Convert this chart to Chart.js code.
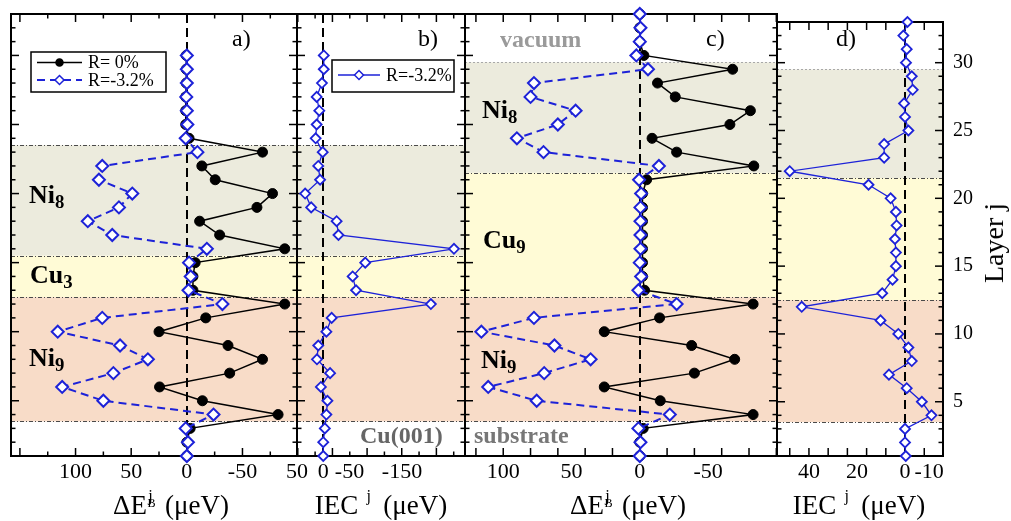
<!DOCTYPE html>
<html>
<head>
<meta charset="utf-8">
<script src="https://cdn.jsdelivr.net/npm/chart.js@4.4.1/dist/chart.umd.min.js"></script>
<style>
  html, body { margin: 0; padding: 0; background: #fff; }
  #wrap { position: relative; width: 1011px; height: 521px; overflow: hidden;
          font-family: "Liberation Serif", "DejaVu Serif", serif; }
  #wrap canvas { position: absolute; left: 0; top: 0; }
  .t { position: absolute; white-space: nowrap; line-height: 1; color: #000; }
  .tag { font-size: 24px; }
  .zone { font-size: 26px; font-weight: bold; }
  .zone sub { font-size: 0.72em; vertical-align: -0.28em; line-height: 0; }
  .grey { font-size: 24px; font-weight: bold; }
  .xt { font-size: 27px; transform: translateX(-50%); }
  .ss { position: relative; display: inline-block; width: 0.42em; height: 1em; }
  .ss .up { position: absolute; left: 0.08em; top: 0.06em; font-size: 0.6em; }
  .ss .dn { position: absolute; left: 0.05em; top: 0.84em; font-size: 0.45em; }
  .yt { font-size: 28px; transform: translate(-50%, -50%) rotate(-90deg); }
</style>
</head>
<body>
<div id="wrap">
  <canvas id="cA" width="1011" height="521"></canvas>
  <canvas id="cB" width="1011" height="521"></canvas>
  <canvas id="cC" width="1011" height="521"></canvas>
  <canvas id="cD" width="1011" height="521"></canvas>

  <div class="t tag" style="left:232px;top:26px">a)</div>
  <div class="t tag" style="left:418px;top:26px">b)</div>
  <div class="t tag" style="left:706px;top:26px">c)</div>
  <div class="t tag" style="left:836px;top:26px">d)</div>

  <div class="t zone" style="left:29px;top:182px">Ni<sub>8</sub></div>
  <div class="t zone" style="left:30px;top:262px">Cu<sub>3</sub></div>
  <div class="t zone" style="left:29px;top:345px">Ni<sub>9</sub></div>
  <div class="t zone" style="left:482px;top:97px">Ni<sub>8</sub></div>
  <div class="t zone" style="left:483px;top:227px">Cu<sub>9</sub></div>
  <div class="t zone" style="left:481px;top:347px">Ni<sub>9</sub></div>

  <div class="t grey" style="left:500px;top:27px;color:#9a9a9a">vacuum</div>
  <div class="t grey" style="left:474px;top:423px;color:#777">substrate</div>
  <div class="t grey" style="left:360px;top:423px;color:#666">Cu(001)</div>

  <div class="t xt" style="left:171px;top:487px">&Delta;E<span class="ss"><span class="up">j</span><span class="dn">B</span></span> (&mu;eV)</div>
  <div class="t xt" style="left:381px;top:487px">IEC <span class="ss"><span class="up">j</span></span> (&mu;eV)</div>
  <div class="t xt" style="left:628px;top:487px">&Delta;E<span class="ss"><span class="up">j</span><span class="dn">B</span></span> (&mu;eV)</div>
  <div class="t xt" style="left:859px;top:487px">IEC <span class="ss"><span class="up">j</span></span> (&mu;eV)</div>
  <div class="t yt" style="left:994px;top:243px">Layer j</div>
</div>

<script>
// layers (j), top to bottom
const layersAB = [30, 29, 28, 27, 26, 25, 24, 23, 22, 21, 20, 19, 18, 17, 16, 15,
  14, 13, 12, 11, 10, 9, 8, 7, 6, 5, 4, 3, 2, 1];
const layersCD = [33, 32, 31, 30, 29, 28, 27, 26, 25, 24, 23, 22, 21, 20, 19, 18, 17,
  16, 15, 14, 13, 12, 11, 10, 9, 8, 7, 6, 5, 4, 3, 2, 1];

// a) Ni8/Cu3/Ni9, delta E_B per layer (ueV)
const dEaR0 = [0.5, 0.5, 0.5, 1, 1, 1, -2, -68, -13.5, -25.5, -77, -63, -11.5, -29.5, -88, -7.5,
  -5.5, -5.5, -88, -17, 25, -37, -68, -38.5, 24.5, -14, -82, -3, 0, 0];
const dEaR32 = [0, 0, 0, 0.5, 0, -0.5, 1, -9.5, 76, 79, 49, 61, 89, 67, -18, -2,
  -3.5, -1.5, -32, 76, 116, 60, 35, 66, 112, 75, -24, 1, -1, 0];

// b) IEC per layer, R=-3.2%
const iecB = [-1, -1, 2.5, 12.5, 7.5, 12.5, 14.5, 1, 9.5, 6, 34.5, 23, -25.5, -29, -249, -80,
  -56, -62.5, -205, -16, -6, 9.5, 12, -13, 4.5, -8, -6, -3, 0, 0];

// c) Ni8/Cu9/Ni9
const dEcR0 = [0, 0, 0, -3, -68, -13, -26, -81, -66, -9, -27, -83.5, -5, -2, -2, -2, -2,
  -2, -2, -2, -3.5, -83, -14.5, 26, -38, -69.5, -40, 26, -15, -83, -2.5, 0, 0];
const dEcR32 = [0, -0.5, 0, 2.5, -6, 77.5, 80, 47, 60, 90, 70.5, -14, 0.5, -1, -0.5, -0.5, -0.5,
  -0.5, 0, -1, 1, -27, 77.5, 116, 62.5, 36, 70, 111, 75.5, -22, 1, -0.5, 0];

// d) IEC per layer, R=-3.2%
const iecD = [-1, 0.7, -0.7, -0.4, -2.8, -3.2, 0.4, 0, -1.4, 8.7, 8.7, 48, 15.2, 6, 3.8, 3.5, 4.2,
  3.8, 3.8, 5.2, 9.5, 43, 10.2, 2.8, -1.4, -2.8, 6.7, -0.7, -7, -11, 0, 0, -0.3];

const ticksA = [100, 50, 0, -50];
const ticksB = [50, 0, -50, -150];
const ticksC = [100, 50, 0, -50];
const ticksD = [40, 20, 0, -10];
const layerTicks = [5, 10, 15, 20, 25, 30];

// interfaces between slabs (layer j)
const edgesAB = [23.5, 15.5, 12.5, 3.5];
const edgesCD = [29.5, 21.5, 12.5, 3.5];

const labelR0 = "R= 0%";
const labelR32 = "R=-3.2%";

const FONT = '"Liberation Serif", "DejaVu Serif", serif';
const BLUE = "#1d22d8";
const BAND_COLORS = ["#ecebdd", "#fffbd6", "#f8dcc8"];

function pts(xs, ys) {
  return xs.map((v, i) => ({ x: v, y: ys[i] }));
}

function hline(ctx, x1, y1, x2, y2) {
  ctx.beginPath();
  ctx.moveTo(x1, y1);
  ctx.lineTo(x2, y2);
  ctx.stroke();
}

function marker(ctx, style, x, y, r, color, lw) {
  ctx.setLineDash([]);
  ctx.lineWidth = lw;
  ctx.strokeStyle = color;
  ctx.beginPath();
  if (style === "circle") {
    ctx.fillStyle = color;
    ctx.arc(x, y, r, 0, Math.PI * 2);
  } else {
    ctx.fillStyle = "#fff";
    ctx.moveTo(x, y - r); ctx.lineTo(x + r, y); ctx.lineTo(x, y + r); ctx.lineTo(x - r, y);
    ctx.closePath();
  }
  ctx.fill();
  ctx.stroke();
}

// bands, interface lines, zero line, inner ticks, frame, legend
function decor(o) {
  return {
    id: "decor",
    beforeDatasetsDraw(chart) {
      const { ctx, chartArea: a, scales: { x, y } } = chart;
      ctx.save();
      for (let i = 0; i < o.edges.length - 1; i++) {
        const y1 = y.getPixelForValue(o.edges[i]);
        const y2 = y.getPixelForValue(o.edges[i + 1]);
        ctx.fillStyle = BAND_COLORS[i];
        ctx.fillRect(a.left, y1, a.right - a.left, y2 - y1);
      }
      ctx.lineWidth = 1;
      o.edges.forEach((e, i) => {
        ctx.strokeStyle = (o.lightTop && i === 0) ? "#a8a8a8" : "#4a4a4a";
        ctx.setLineDash((o.lightTop && i === 0) ? [2, 2] : [4, 2, 1, 2]);
        const py = Math.round(y.getPixelForValue(e)) + 0.5;
        hline(ctx, a.left, py, a.right, py);
      });

      ctx.strokeStyle = "#000";
      ctx.lineWidth = 2;
      ctx.setLineDash([9, 5]);
      const px = Math.round(x.getPixelForValue(0));
      hline(ctx, px, a.top, px, a.bottom);
      ctx.setLineDash([]);

      // inner tick marks
      ctx.lineWidth = 1.5;
      for (let j = Math.ceil(y.min); j <= y.max; j++) {
        const py = y.getPixelForValue(j);
        const len = j % 5 === 0 ? 8 : 4.5;
        hline(ctx, a.left, py, a.left + len, py);
        hline(ctx, a.right - len, py, a.right, py);
      }
      const m = o.marks;
      const lo = Math.min(x.min, x.max), hi = Math.max(x.min, x.max);
      const k0 = Math.ceil((lo - m.origin) / m.step), k1 = Math.floor((hi - m.origin) / m.step);
      for (let k = k0; k <= k1; k++) {
        const v = m.origin + k * m.step;
        const qx = x.getPixelForValue(v);
        const len = (m.every && k % m.every !== 0) ? 4.5 : 8;
        hline(ctx, qx, a.top, qx, a.top + len);
        hline(ctx, qx, a.bottom - len, qx, a.bottom);
      }

      ctx.lineWidth = 2;
      ctx.strokeRect(a.left, a.top, a.right - a.left, a.bottom - a.top);
      ctx.restore();
    },
    afterDatasetsDraw(chart) {
      const lg = o.legend;
      if (!lg) return;
      const { ctx, chartArea: a } = chart;
      const bx = a.left + lg.dx, by = a.top + lg.dy;
      ctx.save();
      ctx.fillStyle = "#fff";
      ctx.fillRect(bx, by, lg.w, lg.h);
      ctx.strokeStyle = "#000";
      ctx.lineWidth = 1.5;
      ctx.strokeRect(bx, by, lg.w, lg.h);
      lg.items.forEach((idx, i) => {
        const ds = chart.data.datasets[idx];
        const yy = by + lg.row0 + i * lg.rowH;
        ctx.strokeStyle = ds.borderColor;
        ctx.lineWidth = ds.borderWidth;
        ctx.setLineDash(ds.borderDash || []);
        hline(ctx, bx + 6, yy, bx + lg.lineW, yy);
        marker(ctx, ds.pointStyle, bx + 6 + (lg.lineW - 6) / 2, yy,
          ds.pointStyle === "circle" ? 3.5 : 4.5, ds.borderColor, 1.5);
        ctx.fillStyle = "#000";
        ctx.font = "18px " + FONT;
        ctx.textBaseline = "middle";
        ctx.fillText(ds.label, bx + lg.lineW + 6, yy + 1);
      });
      ctx.restore();
    }
  };
}

function blackSet(xs, ys) {
  return {
    label: labelR0, data: pts(xs, ys), showLine: true,
    borderColor: "#000", backgroundColor: "#000", borderWidth: 1.5,
    pointStyle: "circle", pointRadius: 5, pointBorderWidth: 1, clip: false, order: 2
  };
}

function blueSet(xs, ys, dashed) {
  return {
    label: labelR32, data: pts(xs, ys), showLine: true,
    borderColor: BLUE, backgroundColor: "#fff",
    borderWidth: dashed ? 2 : 1.3, borderDash: dashed ? [8, 5] : [],
    pointStyle: "rectRot", pointRadius: dashed ? 6 : 5,
    pointBorderWidth: dashed ? 2 : 1.8, clip: false, order: 1
  };
}

function makePanel(id, o) {
  const xTicks = o.xTicks;
  const yScale = o.rightAxis ? {
    type: "linear", position: "right", min: 1, max: 33,
    afterBuildTicks: (s) => { s.ticks = layerTicks.map((v) => ({ value: v })); },
    afterFit: (s) => { s.width = 60; },
    grid: { display: false, drawTicks: false },
    border: { display: false },
    ticks: { color: "#000", padding: 10, font: { family: FONT, size: 20 } }
  } : { type: "linear", min: 1, max: 33, display: false };

  return new Chart(document.getElementById(id), {
    type: "scatter",
    data: { datasets: o.datasets },
    options: {
      responsive: false,
      animation: false,
      events: [],
      layout: {
        autoPadding: false,
        padding: { left: o.left, right: 1011 - o.right - (o.rightAxis ? 60 : 0), top: 14, bottom: 0 }
      },
      plugins: { legend: { display: false }, tooltip: { enabled: false } },
      scales: {
        x: {
          type: "linear", reverse: true, min: o.xmin, max: o.xmax,
          afterBuildTicks: (s) => { s.ticks = xTicks.map((v) => ({ value: v })); },
          afterFit: (s) => { s.height = 65; },
          grid: { display: false, drawTicks: false },
          border: { display: false },
          ticks: { color: "#000", padding: 3, autoSkip: false, maxRotation: 0,
                   font: { family: FONT, size: 22 } }
        },
        y: yScale
      }
    },
    plugins: [decor(o)]
  });
}

makePanel("cA", {
  left: 11, right: 297, xmin: -99, xmax: 158, xTicks: ticksA,
  edges: edgesAB, marks: { origin: 0, step: 25, every: 2 },
  datasets: [blueSet(dEaR32, layersAB, true), blackSet(dEaR0, layersAB)],
  legend: { dx: 20, dy: 38, w: 135, h: 40, row0: 10.5, rowH: 17.5, lineW: 51, items: [1, 0] }
});

makePanel("cB", {
  left: 297, right: 465, xmin: -270, xmax: 50, xTicks: ticksB,
  edges: edgesAB, marks: { origin: -17.5, step: 33, every: 2 },
  datasets: [blueSet(iecB, layersAB, false)],
  legend: { dx: 35, dy: 46, w: 122, h: 32, row0: 15, rowH: 17, lineW: 48, items: [0] }
});

makePanel("cC", {
  left: 465, right: 777, xmin: -100.5, xmax: 128, xTicks: ticksC,
  edges: edgesCD, lightTop: true, marks: { origin: 0, step: 20, every: 0 },
  datasets: [blueSet(dEcR32, layersCD, true), blackSet(dEcR0, layersCD)]
});

makePanel("cD", {
  left: 777, right: 943, xmin: -15.8, xmax: 53.3, xTicks: ticksD,
  edges: edgesCD, lightTop: true, marks: { origin: 0, step: 8, every: 0 },
  datasets: [blueSet(iecD, layersCD, false)],
  rightAxis: true
});
</script>
</body>
</html>
